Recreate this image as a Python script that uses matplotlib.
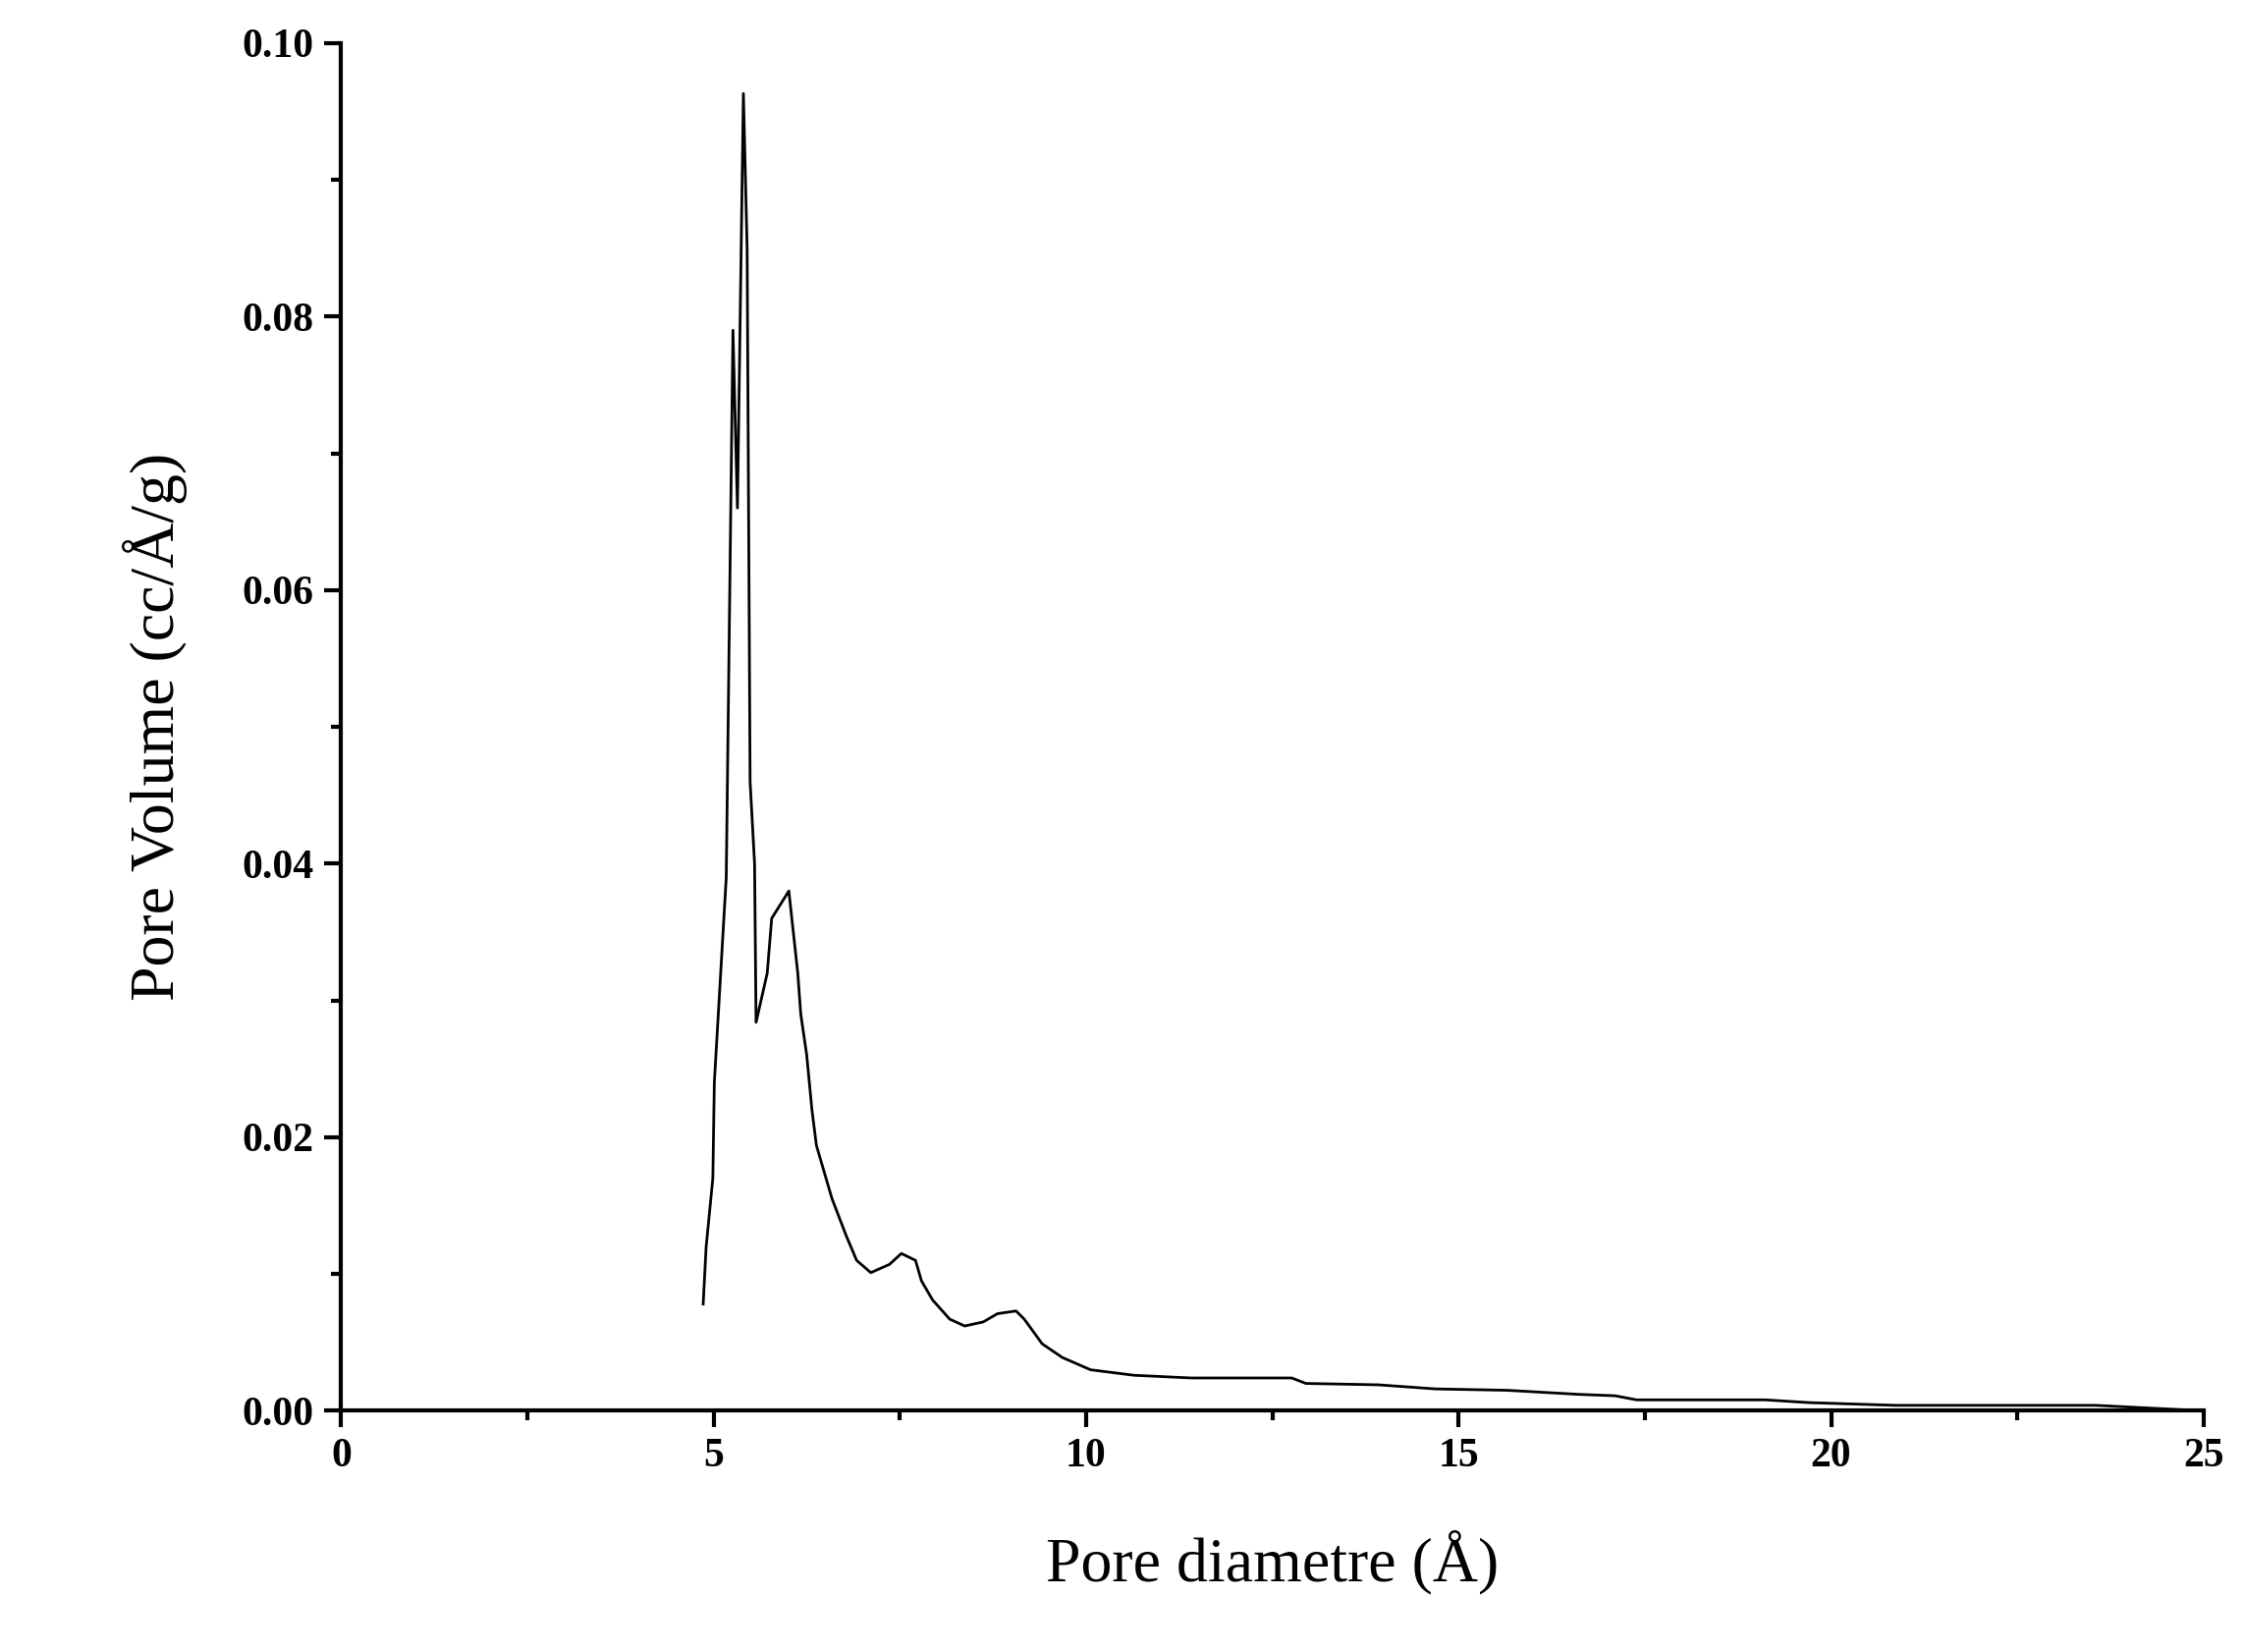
import matplotlib
matplotlib.use("Agg")
import matplotlib.pyplot as plt
from matplotlib.ticker import MultipleLocator

diameter = [4.86, 4.90, 4.99, 5.01, 5.17, 5.26, 5.32, 5.40, 5.45, 5.49, 5.55, 5.57, 5.72, 5.78,
            6.01, 6.13, 6.17, 6.25, 6.32, 6.38, 6.59, 6.78, 6.92, 7.11, 7.36, 7.52, 7.71, 7.79,
            7.94, 8.17, 8.37, 8.62, 8.81, 9.06, 9.17, 9.41, 9.68, 10.06, 10.64, 11.41, 12.76,
            12.95, 13.92, 14.69, 15.65, 16.62, 17.10, 17.39, 19.12, 19.70, 20.86, 23.55, 25.0]
volume = [0.0078, 0.012, 0.017, 0.024, 0.039, 0.079, 0.066, 0.0963, 0.085, 0.046, 0.040, 0.0284,
          0.032, 0.036, 0.038, 0.032, 0.029, 0.026, 0.022, 0.0194, 0.0155, 0.0128, 0.011, 0.0101,
          0.0107, 0.0115, 0.011, 0.0095, 0.0081, 0.0067, 0.0062, 0.0065, 0.0071, 0.0073, 0.0067,
          0.0049, 0.0039, 0.0030, 0.0026, 0.0024, 0.0024, 0.0020, 0.0019, 0.0016, 0.0015, 0.0012,
          0.0011, 0.0008, 0.0008, 0.0006, 0.0004, 0.0004, 0.0]

fig = plt.figure(figsize=(22.85, 16.82), dpi=100)
ax = fig.add_axes([0.152, 0.146, 0.830, 0.828])
ax.plot(diameter, volume, color='black', lw=2)
ax.set_xlim(0, 25)
ax.set_ylim(0, 0.10)
ax.xaxis.set_major_locator(MultipleLocator(5))
ax.xaxis.set_minor_locator(MultipleLocator(2.5))
ax.yaxis.set_major_locator(MultipleLocator(0.02))
ax.yaxis.set_minor_locator(MultipleLocator(0.01))
ax.yaxis.set_major_formatter(plt.FuncFormatter(lambda v, p: f"{v:.2f}"))
for s in ['top', 'right']:
    ax.spines[s].set_visible(False)
for s in ['left', 'bottom']:
    ax.spines[s].set_linewidth(3)
ax.tick_params(which='major', direction='out', length=12, width=3, labelsize=30, pad=8)
ax.tick_params(which='minor', direction='out', length=7, width=3)
for lab in ax.get_xticklabels() + ax.get_yticklabels():
    lab.set_fontfamily('Liberation Serif')
    lab.set_fontweight('bold')
ax.set_xlabel('Pore diametre (Å)', fontsize=46, family='Liberation Serif', labelpad=40)
ax.set_ylabel('Pore Volume (cc/Å/g)', fontsize=46, family='Liberation Serif', labelpad=40)
fig.savefig('out.png', dpi=100)
